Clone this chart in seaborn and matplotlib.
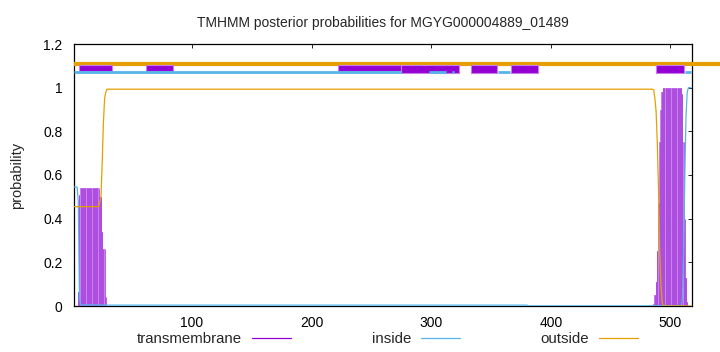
import numpy as np
import pandas as pd
import matplotlib
matplotlib.use("Agg")
import matplotlib.pyplot as plt
import seaborn as sns
from matplotlib.lines import Line2D

# ---------------- data ----------------
seq_len = 517
title = "TMHMM posterior probabilities for MGYG000004889_01489"

# run-length encoded posterior values: (number of residues, probability)
tm_runs = [(4, 0.0), (1, 0.065), (1, 0.51), (16, 0.54), (2, 0.50), (1, 0.34),
           (2, 0.26), (1, 0.04), (457, 0.0),
           (1, 0.01), (1, 0.05), (1, 0.11), (1, 0.25), (1, 0.47), (1, 0.75),
           (1, 0.90), (1, 0.98), (16, 1.0), (1, 0.97), (1, 0.75), (1, 0.40),
           (1, 0.13), (1, 0.02), (3, 0.0)]
inside_runs = [(4, 0.545), (1, 0.48), (1, 0.035), (16, 0.005), (1, 0.005),
               (357, 0.004), (129, 0.001), (1, 0.03), (1, 0.25), (1, 0.60),
               (1, 0.87), (1, 0.98), (3, 1.0)]
outside_runs = [(22, 0.455), (1, 0.475), (1, 0.50), (1, 0.66), (1, 0.84),
                (1, 0.95), (1, 0.98), (457, 0.993),
                (1, 0.99), (1, 0.95), (1, 0.89), (1, 0.75), (1, 0.53), (1, 0.25),
                (1, 0.10), (1, 0.02), (24, 0.0)]

# predicted topology strip (start, end) in residue coordinates
strip_outside = [(1, 541)]
strip_inside = [(1, 275), (298, 312), (317, 319), (356, 366), (512, 517)]
strip_tm_high = [(6, 33), (62, 84), (222, 275)]
strip_tm_full = [(275, 323), (333, 355), (367, 389), (488, 511)]

tick_x = [100, 200, 300, 400, 500]
tick_y = [0, 0.2, 0.4, 0.6, 0.8, 1.0, 1.2]
tick_y_labels = ["0", "0.2", "0.4", "0.6", "0.8", "1", "1.2"]

c_tm = "#9400D3"
c_in = "#56B4E9"
c_out = "#E69F00"


def expand(runs):
    vals = []
    for n, v in runs:
        vals.extend([v] * n)
    return np.array(vals)


pos = np.arange(1, seq_len + 1)
df = pd.DataFrame({"pos": pos, "transmembrane": expand(tm_runs),
                   "inside": expand(inside_runs), "outside": expand(outside_runs)})

# ---------------- plot ----------------
sns.set_style("white")
plt.rcParams["font.family"] = ["Liberation Sans", "DejaVu Sans"]
fig = plt.figure(figsize=(7.2, 3.52), dpi=100)
ax = fig.add_axes([73.5 / 720, 1 - 306 / 352, (692 - 73.5) / 720, (306 - 44) / 352])

# transmembrane impulses
ax.bar(df["pos"], df["transmembrane"], width=1.0, color="#c882ea", linewidth=0, zorder=2)
ax.vlines(df["pos"], 0, df["transmembrane"], color="#a845e0", linewidth=0.6, zorder=3)

sns.lineplot(data=df, x="pos", y="inside", color=c_in, linewidth=0.9, ax=ax, zorder=4)
sns.lineplot(data=df, x="pos", y="outside", color=c_out, linewidth=0.9, ax=ax, zorder=4)

# topology strip
for s, e in strip_outside:
    ax.plot([s, e], [1.11, 1.11], color=c_out, linewidth=3.0, solid_capstyle="butt",
            clip_on=False, zorder=5)
ax.broken_barh([(s, e - s) for s, e in strip_tm_high], (1.078, 0.024),
               facecolors=c_tm, edgecolors="#c77dea", linewidth=0.8, zorder=5)
ax.broken_barh([(s, e - s) for s, e in strip_tm_full], (1.066, 0.036),
               facecolors=c_tm, edgecolors="#c77dea", linewidth=0.8, zorder=5)
for s, e in strip_inside:
    ax.plot([s, e], [1.072, 1.072], color=c_in, linewidth=2.0, solid_capstyle="butt",
            zorder=6)

ax.set_xlim(1, seq_len + 1)
ax.set_ylim(0, 1.2)
ax.set_xticks(tick_x)
ax.set_xticklabels([str(t) for t in tick_x])
ax.set_yticks(tick_y)
ax.set_yticklabels(tick_y_labels)
ax.tick_params(direction="in", length=3, width=0.6, top=True, right=True,
               labelsize=10, colors="#000000", pad=8)
ax.tick_params(axis="x", pad=7)
for sp in ax.spines.values():
    sp.set_color("black")
    sp.set_linewidth(0.9)
ax.set_xlabel("")
ax.set_ylabel("probability", fontsize=10.5, labelpad=14)
ax.set_title(title, fontsize=10, pad=12)

handles = [Line2D([], [], color=c_tm, linewidth=0.9),
           Line2D([], [], color=c_in, linewidth=0.9),
           Line2D([], [], color=c_out, linewidth=0.9)]
fig.legend(handles, ["transmembrane", "inside", "outside"], loc="center",
           bbox_to_anchor=(0.538, 0.036), ncol=3, frameon=False, markerfirst=False,
           fontsize=10.8, handlelength=2.6, handletextpad=0.65, columnspacing=5.4)

fig.savefig("out.png", dpi=100)
